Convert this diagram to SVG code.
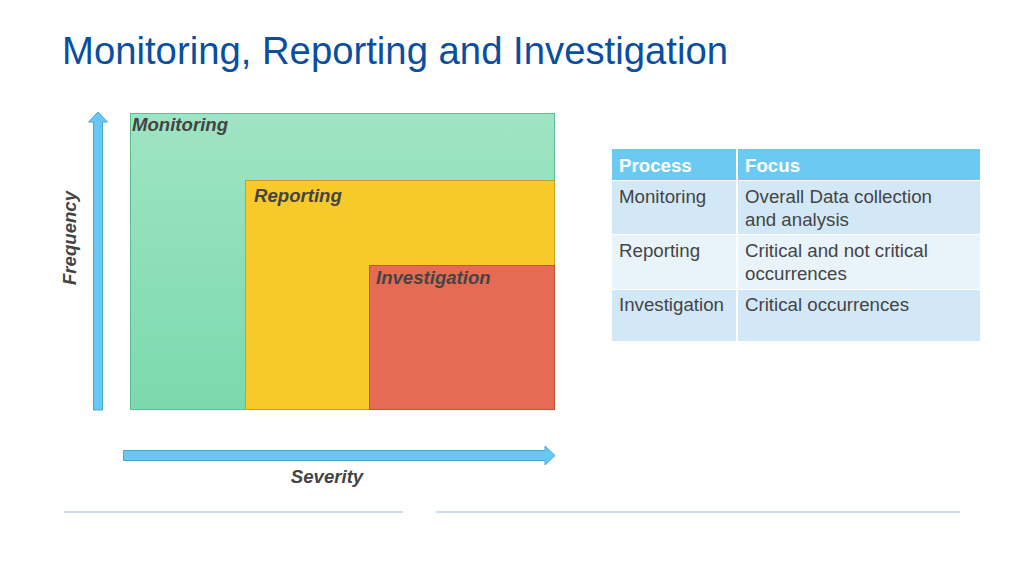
<svg xmlns="http://www.w3.org/2000/svg" width="1024" height="576" viewBox="0 0 1024 576">
<defs>
<linearGradient id="gGreen" x1="0" y1="0" x2="0" y2="1"><stop offset="0" stop-color="#9fe4c4"/><stop offset="1" stop-color="#7bd9ad"/></linearGradient>
<style>
.lbl{font-family:"Liberation Sans",Arial,sans-serif;font-weight:bold;font-style:italic;font-size:18.6px;fill:#444}
.td{font-family:"Liberation Sans",Arial,sans-serif;font-size:18.7px;fill:#444}
.th{font-family:"Liberation Sans",Arial,sans-serif;font-size:18.7px;font-weight:bold;fill:#fff}
.arrow{fill:#68c8f2;stroke:#4aa6d6;stroke-width:1}
</style>
</defs>
<rect width="1024" height="576" fill="#fff"/>
<text x="62" y="64" font-family="Liberation Sans,Arial,sans-serif" font-size="38" fill="#0a4ea0" textLength="666" lengthAdjust="spacingAndGlyphs">Monitoring, Reporting and Investigation</text>

<g id="connectors">
<path class="arrow" d="M93.5,410 L93.5,122 L88.5,122 L98,112 L107.5,122 L102.5,122 L102.5,410 Z"/>
<path class="arrow" d="M123.5,450.5 L545,450.5 L545,446 L555,455.5 L545,465 L545,460.5 L123.5,460.5 Z"/>
</g>
<text class="lbl" transform="translate(76,238) rotate(-90)" text-anchor="middle">Frequency</text>
<text class="lbl" x="327" y="483" text-anchor="middle">Severity</text>

<g id="monitoring">
<rect x="130.5" y="113.5" width="424" height="296" fill="url(#gGreen)" stroke="#5cbf94" stroke-width="1"/>
<text class="lbl" x="132" y="131">Monitoring</text>
</g>
<g id="reporting">
<rect x="245.5" y="180.5" width="309" height="229" fill="#f7ca2a" stroke="#c9a020" stroke-width="1"/>
<text class="lbl" x="254" y="202">Reporting</text>
</g>
<g id="investigation">
<rect x="369.5" y="265.5" width="185" height="144" fill="#e66b55" stroke="#c4503c" stroke-width="1"/>
<text class="lbl" x="376" y="284">Investigation</text>
</g>

<g id="table">
<rect x="612" y="149" width="368" height="31" fill="#6ccaf2"/>
<rect x="612" y="181" width="368" height="53" fill="#d3e8f7"/>
<rect x="612" y="235" width="368" height="54" fill="#e8f3fa"/>
<rect x="612" y="290" width="368" height="51" fill="#d3e8f7"/>
<line x1="737" y1="149" x2="737" y2="341" stroke="#fff" stroke-width="2"/>
<text class="th" x="619" y="172">Process</text>
<text class="th" x="745" y="172">Focus</text>
<text class="td" x="619" y="203">Monitoring</text>
<text class="td" x="745" y="203">Overall Data collection</text>
<text class="td" x="745" y="226">and analysis</text>
<text class="td" x="619" y="257">Reporting</text>
<text class="td" x="745" y="257">Critical and not critical</text>
<text class="td" x="745" y="280">occurrences</text>
<text class="td" x="619" y="311">Investigation</text>
<text class="td" x="745" y="311">Critical occurrences</text>
</g>

<line x1="64" y1="512" x2="403" y2="512" stroke="#c5e1f2" stroke-width="2"/>
<line x1="436" y1="512" x2="960" y2="512" stroke="#c5e1f2" stroke-width="2"/>
</svg>
